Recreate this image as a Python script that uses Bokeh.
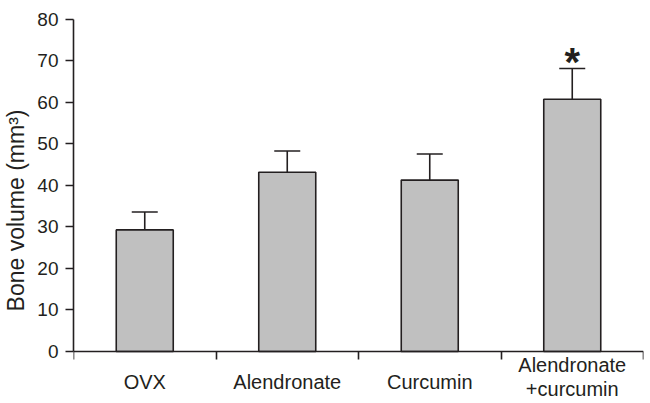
from bokeh.plotting import figure
from bokeh.models import Range1d, FixedTicker, Whisker, TeeHead, ColumnDataSource
from bokeh.embed import file_html
from bokeh.resources import INLINE
from bokeh.core.properties import value

# ---- data ----
categories = ["OVX", "Alendronate", "Curcumin", "Alendronate\n+curcumin"]
bone_volume = [29.3, 43.2, 41.3, 60.8]
error_upper = [4.3, 5.1, 6.3, 7.4]
significant = [False, False, False, True]
y_ticks = [0, 10, 20, 30, 40, 50, 60, 70, 80]
y_label = "Bone volume (mm\u00b3)"

INK = "#231f20"
FONT = "Liberation Sans"

# layout constants (frame extends below 0 to hold the category labels)
Y_MIN_VIEW = -12.05
LABEL_Y = -7.45
EXTRA_LINE_SHIFT = -5  # px, raise multi-line labels so they stay in view

xs = [i + 0.5 for i in range(len(categories))]
uppers = [v + e for v, e in zip(bone_volume, error_upper)]
label_shift = [EXTRA_LINE_SHIFT * name.count("\n") for name in categories]
src = ColumnDataSource(dict(x=xs, top=bone_volume, upper=uppers, label=categories,
                            shift=label_shift))
star_src = ColumnDataSource(dict(
    x=[x for x, s in zip(xs, significant) if s],
    y=[u for u, s in zip(uppers, significant) if s],
))

p = figure(frame_width=570, frame_height=382, output_backend="svg", toolbar_location=None,
           x_range=Range1d(0, len(categories)), y_range=Range1d(Y_MIN_VIEW, y_ticks[-1]),
           x_axis_location="above",
           min_border_left=66, min_border_right=2, min_border_top=19, min_border_bottom=0)
p.outline_line_color = None
p.grid.visible = False
p.background_fill_color = "white"

p.vbar(x="x", top="top", bottom=0, width=0.4, source=src,
       fill_color="#c0c0c0", line_color=INK, line_width=1.6)

w = Whisker(base="x", lower="top", upper="upper", source=src, dimension="height",
            lower_head=None,
            upper_head=TeeHead(size=26, line_color=INK, line_width=1.6),
            line_color=INK, line_width=1.6, level="glyph")
p.add_layout(w)

p.text(x="x", y="y", text=value("*"), source=star_src,
       text_font=value(FONT), text_font_style="bold", text_font_size="40px",
       text_align="center", text_baseline="alphabetic", y_offset=-6, text_color=INK)

# category labels
p.text(x="x", y=LABEL_Y, text="label", source=src, y_offset="shift",
       text_font=value(FONT), text_font_size="20px", text_color=INK,
       text_align="center", text_baseline="middle", text_line_height=1.1)

# x axis drawn at y=0, tick marks at category boundaries
xa = p.xaxis[0]
xa.fixed_location = 0
xa.ticker = FixedTicker(ticks=[], minor_ticks=list(range(len(categories) + 1)))
xa.major_tick_out = 0
xa.major_tick_in = 0
xa.minor_tick_out = 0
xa.minor_tick_in = 8
xa.minor_tick_line_color = INK
xa.minor_tick_line_width = 1.6
xa.axis_line_color = INK
xa.axis_line_width = 1.6

ya = p.yaxis[0]
ya.bounds = (0, y_ticks[-1])
ya.ticker = FixedTicker(ticks=y_ticks)
ya.major_tick_out = 8
ya.major_tick_in = 0
ya.minor_tick_out = 0
ya.minor_tick_in = 0
ya.major_tick_line_color = INK
ya.major_tick_line_width = 1.6
ya.axis_line_color = INK
ya.axis_line_width = 1.6
ya.major_label_standoff = 7
ya.major_label_text_font = FONT
ya.major_label_text_font_size = "19px"
ya.major_label_text_color = INK
ya.axis_label = y_label
ya.axis_label_text_font = FONT
ya.axis_label_text_font_size = "23px"
ya.axis_label_text_font_style = "normal"
ya.axis_label_text_color = INK
ya.axis_label_standoff = 5

open("out.html", "w").write(file_html(p, INLINE))
